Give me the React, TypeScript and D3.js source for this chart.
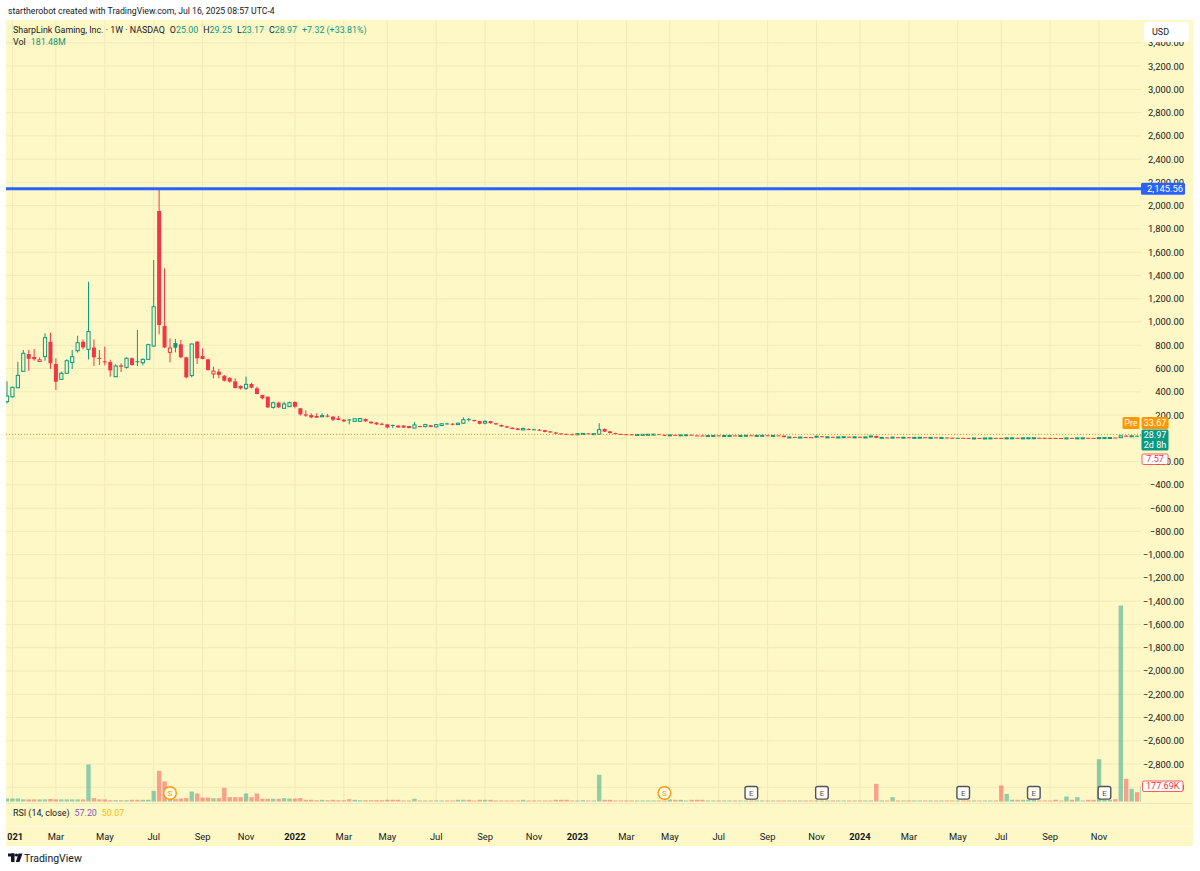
import React from "react";
import * as d3 from "d3";

// ---------- DATA (weekly bars, Dec 28 2020 onward) ----------
const opens = [
  315, 357, 435, 576, 724, 700, 660, 702, 830, 639, 507, 559, 653, 753, 830, 765, 781, 692, 662, 656,
  530, 627, 610, 688, 663, 650, 679, 793, 1954, 966, 739, 819, 808, 696, 539, 831, 708, 679, 553, 573,
  538, 520, 490, 450, 430, 467, 430, 372, 358, 266, 306, 258, 272, 312, 258, 205, 200, 192, 185, 195,
  186, 172, 160, 162, 146, 146, 166, 143, 135, 125, 120, 115, 110, 110, 105, 88, 105, 100, 112, 98,
  110, 128, 125, 118, 130, 165, 158, 148, 130, 148, 130, 115, 103, 92, 85, 72, 80, 78, 74, 70,
  60, 50, 42, 38, 35, 30, 36, 42, 35, 35, 80, 60, 45, 37, 35, 34, 30, 31, 32, 33,
  36, 30, 27, 30, 28, 30, 31, 25, 24, 22, 24, 25, 22, 24, 25, 24, 25, 26, 24, 25,
  26, 24, 25, 23, 10, 12, 10, 11, 10, 9, 18, 12, 13, 10, 12, 14, 11, 13, 11, 12,
  20, 4, 8, 6, 10, 8, 9, 7, 8, 9, 7, 8, 6, 7, 5, 4, 4, 3.5, 2.5, 3,
  2.5, 3, 3.5, 3, 2, 4, 4.5, 3.5, 4, 4.5, 4.8, 4, 3.5, 3, 2.5, 2.2, 3.5, 3, 4, 4.2,
  3.5, 3.2, 6, 6.5, 6.8, 6, 22, 18, 22, 25,
];
const highs = [
  490, 445, 658, 759, 759, 767, 695, 902, 908, 688, 573, 679, 759, 882, 850, 1346, 850, 759, 788, 676,
  636, 645, 696, 696, 931, 688, 813, 1533, 2145.56, 1461, 859, 854, 845, 700, 815, 836, 773, 685, 616, 596,
  545, 524, 515, 455, 530, 478, 445, 375, 360, 315, 315, 315, 315, 318, 260, 240, 215, 215, 215, 210,
  192, 192, 165, 165, 170, 175, 170, 146, 140, 135, 125, 118, 112, 112, 108, 140, 108, 125, 115, 122,
  128, 133, 130, 133, 180, 175, 160, 150, 155, 150, 133, 118, 108, 95, 88, 90, 85, 82, 80, 72,
  62, 55, 45, 40, 42, 45, 45, 45, 42, 130, 85, 62, 48, 40, 38, 36, 35, 36, 36, 37,
  37, 32, 31, 31, 31, 32, 32, 27, 26, 25, 26, 26, 25, 26, 26, 26, 27, 27, 26, 27,
  27, 26, 26, 24, 13, 13, 12, 13, 12, 22, 19, 14, 14, 13, 15, 15, 14, 14, 13, 22,
  24, 9, 9, 12, 11, 10, 10, 9, 10, 10, 9, 9, 8, 8, 6, 5, 5, 4, 3.5, 4,
  3.5, 4, 4, 4, 5, 5, 5, 4.5, 5, 5, 5, 4.5, 4, 3.5, 3, 4, 4, 4.5, 4.5, 4.5,
  4, 8, 7, 7, 7, 30, 28, 23, 24, 29.25,
];
const lows = [
  300, 350, 430, 570, 582, 667, 655, 667, 596, 415, 501, 553, 596, 736, 765, 679, 622, 630, 627, 530,
  524, 570, 599, 625, 622, 627, 675, 788, 894, 775, 653, 739, 688, 516, 524, 639, 679, 582, 515, 516,
  490, 480, 430, 420, 415, 430, 378, 335, 262, 255, 260, 252, 270, 258, 195, 185, 172, 175, 183, 180,
  148, 155, 140, 120, 144, 140, 143, 125, 115, 112, 85, 88, 90, 90, 85, 86, 95, 95, 95, 95,
  105, 118, 112, 115, 125, 145, 145, 120, 120, 125, 115, 98, 90, 78, 70, 70, 70, 70, 65, 52,
  48, 35, 30, 28, 28, 28, 33, 32, 33, 32, 55, 42, 32, 30, 28, 28, 28, 29, 30, 31,
  28, 25, 26, 26, 27, 29, 26, 22, 21, 21, 22, 21, 21, 22, 23, 22, 23, 23, 22, 23,
  23, 22, 22, 8, 8, 9, 8, 9, 8, 8, 10, 10, 9, 9, 11, 10, 10, 10, 9, 11,
  2, 3, 5, 5, 7, 6, 6, 6, 7, 6, 6, 5, 5, 4, 3, 3, 3, 2, 2, 2,
  2, 2.5, 2.5, 1.5, 2, 3, 3, 3, 3.5, 3.5, 3.5, 3, 2.8, 2, 2, 2, 2.5, 2.8, 3, 3,
  3, 3, 5, 5.5, 5.5, 5.5, 15, 17, 19, 23.17,
];
const closes = [
  364, 438, 541, 731, 684, 680, 675, 865, 645, 487, 559, 667, 702, 822, 781, 917, 696, 686, 653, 584,
  622, 616, 688, 630, 660, 679, 805, 1131, 974, 781, 776, 779, 696, 524, 811, 688, 682, 587, 578, 545,
  495, 487, 432, 428, 464, 435, 381, 344, 266, 306, 266, 295, 306, 272, 206, 195, 180, 178, 195, 186,
  160, 158, 146, 157, 168, 170, 146, 129, 120, 118, 93, 110, 93, 92, 88, 115, 98, 118, 98, 118,
  125, 126, 118, 130, 160, 161, 148, 125, 145, 130, 120, 102, 92, 80, 72, 85, 72, 74, 70, 55,
  50, 40, 35, 32, 30, 40, 42, 35, 40, 75, 57, 45, 35, 33, 32, 30, 33, 34, 35, 36,
  30, 27, 30, 28, 30, 31, 27, 24, 22, 24, 25, 22, 24, 25, 24, 25, 26, 24, 25, 26,
  24, 25, 23, 10, 12, 10, 11, 10, 9, 18, 12, 13, 10, 12, 14, 11, 13, 11, 12, 20,
  4, 8, 6, 10, 8, 9, 7, 8, 9, 7, 8, 6, 7, 5, 4, 4, 3.5, 2.5, 3, 2.5,
  3, 3.5, 3, 2, 4, 4.5, 3.5, 4, 4.5, 4.8, 4, 3.5, 3, 2.5, 2.2, 3.5, 3, 4, 4.2, 3.5,
  3.2, 6, 6.5, 6.8, 6, 22, 18, 21.6, 21.65, 28.97,
];
// volume in thousands
const volumes = [
  35, 35, 35, 25, 25, 25, 25, 25, 30, 25, 25, 25, 25, 25, 25, 438, 39, 25, 25, 15,
  15, 15, 15, 20, 20, 20, 20, 126, 363, 237, 50, 30, 35, 40, 118, 95, 47, 47, 39, 39,
  162, 51, 51, 51, 95, 51, 95, 32, 32, 32, 32, 39, 35, 35, 39, 20, 20, 15, 20, 15,
  20, 15, 15, 27, 20, 15, 15, 15, 15, 15, 20, 20, 20, 8, 8, 32, 8, 8, 8, 8,
  8, 8, 8, 20, 20, 20, 8, 20, 20, 20, 8, 8, 8, 8, 8, 20, 8, 8, 8, 8,
  8, 20, 20, 20, 8, 8, 15, 8, 5, 316, 20, 20, 6, 12, 12, 4, 4, 4, 4, 4,
  4, 4, 24, 20, 20, 4, 20, 20, 20, 4, 4, 12, 4, 4, 4, 4, 4, 4, 4, 4,
  4, 4, 4, 12, 4, 4, 4, 4, 4, 4, 4, 4, 12, 4, 12, 4, 4, 4, 4, 12,
  209, 12, 12, 51, 4, 4, 12, 4, 12, 4, 12, 4, 4, 12, 12, 4, 4, 12, 4, 4,
  4, 4, 4, 190, 91, 20, 20, 20, 20, 20, 8, 8, 8, 20, 8, 59, 20, 51, 8, 20,
  20, 500, 20, 20, 27, 2320, 268, 150, 110, 177.69,
];

const priceTicks = [
  3400, 3200, 3000, 2800, 2600, 2400, 2200, 2000, 1800, 1600, 1400, 1200, 1000, 800, 600, 400, 200, 0,
  -200, -400, -600, -800, -1000, -1200, -1400, -1600, -1800, -2000, -2200, -2400, -2600, -2800, -3000,
];
const timeLabels = [
  "2021", "Mar", "May", "Jul", "Sep", "Nov", "2022", "Mar", "May", "Jul", "Sep", "Nov",
  "2023", "Mar", "May", "Jul", "Sep", "Nov", "2024", "Mar", "May", "Jul", "Sep", "Nov",
];
const timeLabelBars = [1, 9, 18, 27, 36, 44, 53, 62, 70, 79, 88, 97, 105, 114, 122, 131, 140, 149, 157, 166, 175, 183, 192, 201];
const splitBars = [30, 121];
const earningsBars = [137, 150, 176, 189, 202];

const highLine = 2145.56;
const prePrice = 33.67;
const lowBadge = 7.57;

const BG = "#FEF8C6";
const GRID = "#F1EAB8";
const GREEN = "#089981";
const RED = "#F23645";
const TEXT = "#131722";
const FONT = "Roboto, 'Noto Sans', sans-serif";

export default function App() {
  const n = closes.length;
  const step = 5.433;
  const x = d3.scaleLinear().domain([0, n - 1]).range([7, 7 + (n - 1) * step]);
  const y = d3.scaleLinear().domain([-3000, 3400]).range([787.3, 42.8]);
  const yv = d3.scaleLinear().domain([0, d3.max(volumes) as number]).range([801.5, 605.5]);
  const fmt = d3.format(",.2f");
  const plotL = 6, plotR = 1141, plotT = 20, plotB = 803;

  const last = n - 1;
  const chg = closes[last] - closes[last - 1];
  const pct = (chg / closes[last - 1]) * 100;

  // last-price badge area: axis labels falling fully inside it are hidden (as TradingView does)
  const lastBadgeTop = 429.5, lastBadgeBottom = 450.5;
  const visibleTicks = priceTicks.filter((t) => !(y(t) > lastBadgeTop && y(t) < lastBadgeBottom));

  return (
    <svg width={1200} height={871} style={{ position: "absolute", left: 0, top: 0, background: "#fff" }} fontFamily={FONT}>
      <defs>
        <clipPath id="plot">
          <rect x={plotL} y={plotT} width={plotR - plotL} height={plotB - plotT} />
        </clipPath>
        <clipPath id="taxis">
          <rect x={7.5} y={826} width={plotR - 7.5} height={20} />
        </clipPath>
      </defs>
      <rect x={0} y={0} width={1200} height={871} fill="#fff" />
      <text x={8} y={10.5} fontSize={8.7} fill={TEXT} dominantBaseline="central">
        startherobot created with TradingView.com, Jul 16, 2025 08:57 UTC-4
      </text>
      <rect x={6} y={20} width={1187} height={826} fill={BG} />

      {/* grid */}
      <g clipPath="url(#plot)">
        {priceTicks.map((t) => (
          <line key={"h" + t} x1={plotL} x2={plotR} y1={y(t)} y2={y(t)} stroke={GRID} strokeWidth={1} />
        ))}
        {timeLabelBars.map((b, i) => (
          <line key={"v" + i} x1={x(b)} x2={x(b)} y1={plotT} y2={plotB} stroke={GRID} strokeWidth={1} />
        ))}
      </g>
      <line x1={6} x2={1193} y1={803.5} y2={803.5} stroke="#EFE9B8" />
      <line x1={6} x2={1193} y1={826.5} y2={826.5} stroke="#FBF8E6" />

      {/* volume */}
      <g clipPath="url(#plot)">
        {volumes.map((v, i) => {
          const up = closes[i] >= opens[i];
          const top = yv(v);
          const h = Math.max(1, yv(0) - top);
          return (
            <rect key={"vol" + i} x={x(i) - 2.2} y={yv(0) - h} width={4.4} height={h}
              fill={up ? GREEN : RED} fillOpacity={0.45} />
          );
        })}
      </g>

      {/* candles */}
      <g clipPath="url(#plot)">
        {closes.map((c, i) => {
          const o = opens[i];
          const prev = i === 0 ? o : closes[i - 1];
          const col = c >= prev ? GREEN : RED;
          const hollow = c > o;
          const cx = x(i);
          const yt = y(Math.max(o, c));
          const yb = y(Math.min(o, c));
          const bh = Math.max(1, yb - yt);
          return (
            <g key={"c" + i}>
              <line x1={cx} x2={cx} y1={y(highs[i])} y2={y(lows[i])} stroke={col} strokeWidth={1} />
              {hollow ? (
                <rect x={cx - 1.6} y={yt} width={3.2} height={bh} fill={BG} stroke={col} strokeWidth={1} />
              ) : (
                <rect x={cx - 2} y={yt} width={4} height={bh} fill={col} />
              )}
            </g>
          );
        })}
        <line x1={plotL} x2={plotR} y1={y(prePrice)} y2={y(prePrice)} stroke="#FF9800" strokeWidth={1} strokeDasharray="1 2" />
        <line x1={plotL} x2={plotR} y1={y(highLine)} y2={y(highLine)} stroke="#2962FF" strokeWidth={3} />
      </g>

      {/* event markers */}
      {splitBars.map((b) => (
        <g key={"s" + b}>
          <circle cx={x(b)} cy={793} r={6.3} fill="#FFFDF0" stroke="#FF9800" strokeWidth={1.4} />
          <text x={x(b)} y={793.5} fontSize={8} fill="#FF9800" textAnchor="middle" dominantBaseline="central">S</text>
        </g>
      ))}
      {earningsBars.map((b) => (
        <g key={"e" + b}>
          <rect x={x(b) - 6.3} y={786.5} width={12.6} height={12.6} rx={2} fill="#FFFDF0" stroke="#50535E" strokeWidth={1.4} />
          <text x={x(b)} y={793.3} fontSize={8} fill="#50535E" textAnchor="middle" dominantBaseline="central">E</text>
        </g>
      ))}

      {/* price axis */}
      {visibleTicks.map((t) => (
        <text key={"pt" + t} x={1184} y={y(t)} fontSize={9.4} fill={TEXT} textAnchor="end" dominantBaseline="central">
          {fmt(t)}
        </text>
      ))}
      <rect x={1144} y={22} width={45} height={20} rx={3} fill="#fff" />
      <text x={1152} y={32} fontSize={9} fill={TEXT} dominantBaseline="central">USD</text>

      <rect x={1141} y={y(highLine) - 6} width={44} height={12} rx={1.5} fill="#2962FF" />
      <text x={1183} y={y(highLine)} fontSize={9.4} fill="#fff" textAnchor="end" dominantBaseline="central">{fmt(highLine)}</text>

      <rect x={1122.5} y={417} width={17} height={12} rx={1.5} fill="#FF9800" />
      <text x={1131} y={423} fontSize={8.6} fill="#fff" textAnchor="middle" dominantBaseline="central">Pre</text>
      <rect x={1141.5} y={417} width={27} height={12} rx={1.5} fill="#FF9800" />
      <text x={1155} y={423} fontSize={9} fill="#fff" textAnchor="middle" dominantBaseline="central">{fmt(prePrice)}</text>

      <rect x={1141.5} y={lastBadgeTop} width={27} height={lastBadgeBottom - lastBadgeTop} rx={1.5} fill={GREEN} />
      <text x={1155} y={435} fontSize={9} fill="#fff" textAnchor="middle" dominantBaseline="central">{fmt(closes[last])}</text>
      <text x={1155} y={445} fontSize={9} fill="#fff" textAnchor="middle" dominantBaseline="central">2d 8h</text>

      <rect x={1142} y={454} width={26} height={10.5} rx={1.5} fill="#fff" stroke={RED} strokeWidth={0.8} />
      <text x={1155} y={459.3} fontSize={9} fill={RED} textAnchor="middle" dominantBaseline="central">{fmt(lowBadge)}</text>

      <rect x={1142.5} y={781} width={40.5} height={10.5} rx={1.5} fill="#fff" stroke={RED} strokeWidth={0.8} />
      <text x={1162.7} y={786.3} fontSize={9} fill={RED} textAnchor="middle" dominantBaseline="central">
        {d3.format(".2f")(volumes[last]) + "K"}
      </text>

      {/* time axis */}
      <g clipPath="url(#taxis)">
        {timeLabels.map((t, i) => (
          <text key={"tl" + i} x={x(timeLabelBars[i])} y={836} fontSize={9.4} fill={TEXT} textAnchor="middle"
            dominantBaseline="central" fontWeight={/^\d{4}$/.test(t) ? 700 : 400}>
            {t}
          </text>
        ))}
      </g>

      {/* legend */}
      <text x={13} y={29.5} fontSize={8.9} dominantBaseline="central">
        <tspan fill={TEXT}>SharpLink Gaming, Inc. · 1W · NASDAQ</tspan>
        <tspan dx={5} fill={TEXT}>O</tspan>
        <tspan fill={GREEN}>{fmt(opens[last])}</tspan>
        <tspan dx={5} fill={TEXT}>H</tspan>
        <tspan fill={GREEN}>{fmt(highs[last])}</tspan>
        <tspan dx={5} fill={TEXT}>L</tspan>
        <tspan fill={GREEN}>{fmt(lows[last])}</tspan>
        <tspan dx={5} fill={TEXT}>C</tspan>
        <tspan fill={GREEN}>{fmt(closes[last])}</tspan>
        <tspan dx={5} fill={GREEN}>{`+${fmt(chg)} (+${fmt(pct)}%)`}</tspan>
      </text>
      <text x={13} y={42} fontSize={8.9} dominantBaseline="central">
        <tspan fill={TEXT}>Vol</tspan>
        <tspan dx={5} fill={GREEN}>181.48M</tspan>
      </text>
      <text x={13} y={812.5} fontSize={8.9} dominantBaseline="central">
        <tspan fill={TEXT}>RSI (14, close)</tspan>
        <tspan dx={5} fill="#7E57C2">57.20</tspan>
        <tspan dx={5} fill="#F5C000">50.07</tspan>
      </text>

      {/* TradingView logo */}
      <g fill={TEXT}>
        <rect x={8} y={853.5} width={6.5} height={3} />
        <rect x={11} y={853.5} width={3.5} height={8.5} />
        <circle cx={16.5} cy={855} r={1.6} />
        <polygon points="18.5,853.5 22.5,853.5 19.5,862 15.8,862" />
      </g>
      <text x={24} y={858} fontSize={10.5} fill={TEXT} dominantBaseline="central">TradingView</text>
    </svg>
  );
}
